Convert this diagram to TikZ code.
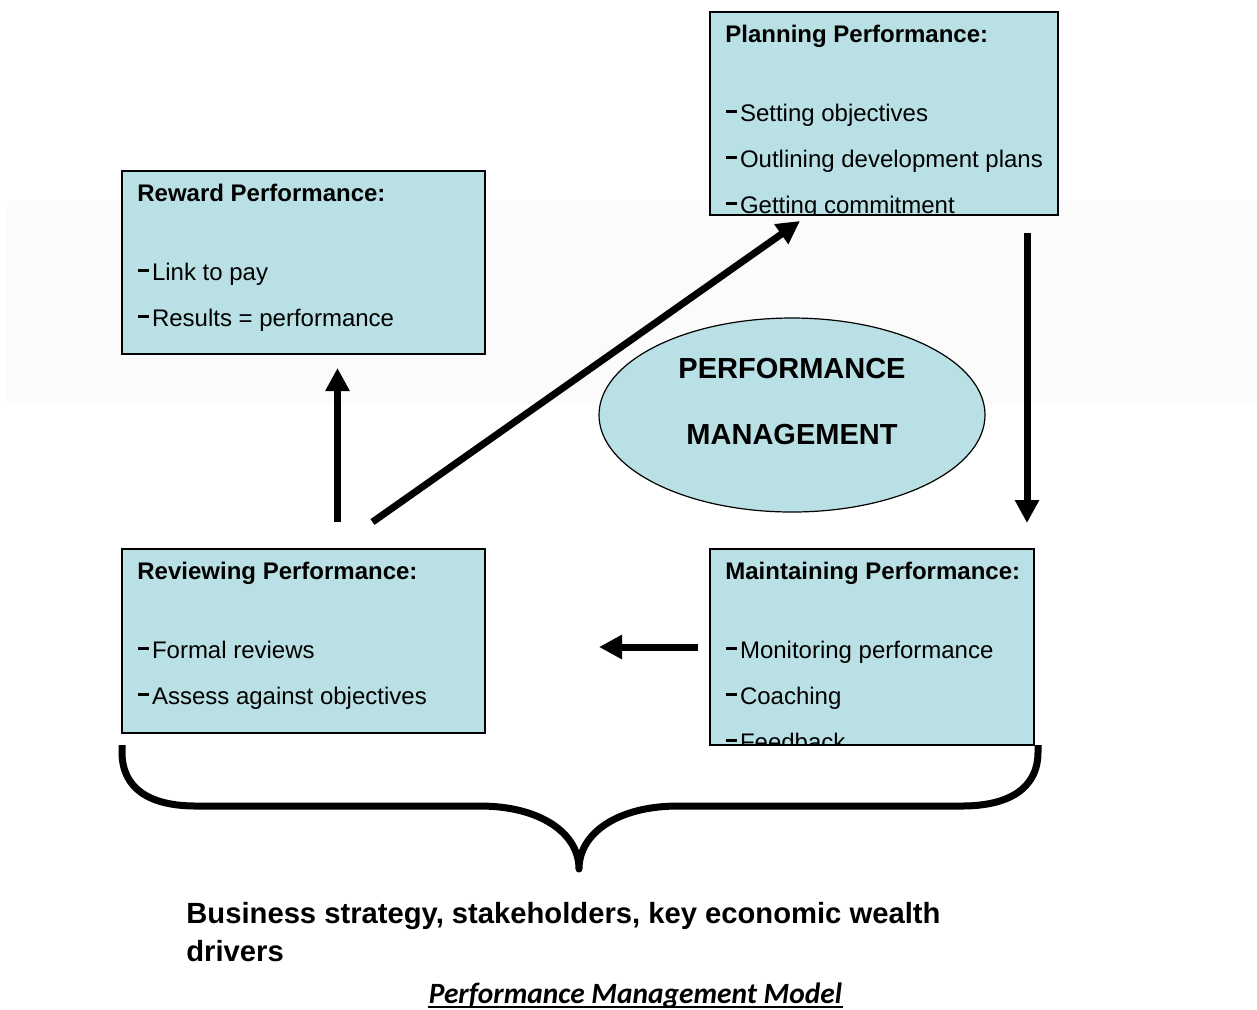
\documentclass[tikz,border=0pt]{standalone}
\usepackage{fontspec}
\setmainfont{Liberation Sans}
\newfontfamily\capfont{Carlito}
\usetikzlibrary{arrows.meta,calc,shapes.geometric}

\definecolor{cardfill}{RGB}{185,224,228}
\definecolor{bandgray}{RGB}{251,251,251}

% short bold dash in front of each item
\newcommand{\itemdash}{\rule[3.8pt]{5.2pt}{1.7pt}\kern1.6pt}
% heading plus item lines of one card, placed from its top left corner
\newcommand{\cardtext}[3]{%
  \node[cardhead] (#1-head) at ($(#1.north west)+(16,31.5)$) {#2};
  \foreach \txt [count=\i] in {#3}
    \node[cardline] (#1-\i) at ($(#1.north west)+(17,64+46*\i)$) {\itemdash\txt};
}

\begin{document}
\begin{tikzpicture}[x=0.5pt, y=-0.5pt,
    card/.style={draw, line width=1pt, fill=cardfill, inner sep=0pt},
    cardhead/.style={anchor=base west, inner sep=0pt, font=\fontsize{12}{14}\bfseries},
    cardline/.style={anchor=base west, inner sep=0pt, font=\fontsize{12}{14}\selectfont},
    hub/.style={ellipse, draw, line width=0.6pt, fill=cardfill, inner sep=0pt,
        minimum width=193pt, minimum height=97pt},
    hubtext/.style={inner sep=0pt, font=\fontsize{14.5}{17}\bfseries},
    flow/.style={line width=3.5pt, -{Triangle[length=11.5pt,width=11.5pt]}}]
    \useasboundingbox (0,0) rectangle (1257,1009);
    % pale band behind the upper half
    \fill[bandgray] (7,201) rectangle (1257,404);

    % Planning
    \node[card, minimum width=174pt, minimum height=101.5pt] (plan) at (884,113.5) {};
    \begin{scope}
        \clip ($(plan.south west)+(1,-1)$) rectangle ($(plan.north east)+(-1,1)$);
        \cardtext{plan}{Planning Performance:}{Setting objectives, Outlining development plans, Getting commitment}
    \end{scope}

    % Reward
    \node[card, minimum width=181.5pt, minimum height=91.5pt] (reward) at (303.5,262.5) {};
    \cardtext{reward}{Reward Performance:}{Link to pay, Results = performance}

    % Reviewing
    \node[card, minimum width=181.5pt, minimum height=92pt] (review) at (303.5,641) {};
    \cardtext{review}{Reviewing Performance:}{Formal reviews, Assess against objectives}

    % Maintaining
    \node[card, minimum width=162pt, minimum height=98pt] (maint) at (872,647) {};
    \begin{scope}
        \clip ($(maint.south west)+(1,-1)$) rectangle ($(maint.north east)+(-1,1)$);
        \cardtext{maint}{Maintaining Performance:}{Monitoring performance, Coaching, Feedback}
    \end{scope}

    % centre ellipse
    \node[hub] (core) at (792,415) {};
    \node[hubtext] (core-top) at ($(core)+(0,-46)$) {PERFORMANCE};
    \node[hubtext] (core-bot) at ($(core)+(0,19)$) {MANAGEMENT};

    % cycle arrows
    \draw[flow] ($(review.north)+(34,-26)$) -- ($(reward.south)+(34,13)$);
    \draw[flow] ($(review.north)+(69,-26)$) -- ($(plan.south)+(-84,5)$);
    \draw[flow] ($(plan.south east)+(-32,17)$) -- ($(maint.north east)+(-8,-25)$);
    \draw[flow] ($(maint.west)+(-11,0)$) -- ($(review.east |- maint.west)+(113,0)$);

    % brace under the lower cards
    \draw[line width=3.5pt, line join=round]
        (122,745) -- (122,752) .. controls (122,789) and (150,806) .. (196,806)
        -- (480,806) .. controls (540,806) and (579,833) .. (579,869)
        .. controls (579,833) and (618,806) .. (678,806)
        -- (962,806) .. controls (1008,806) and (1038,789) .. (1038,752) -- (1038,745);

    \node[anchor=north west, align=left, inner sep=0pt, font=\fontsize{14.6}{19}\bfseries]
        (drivers) at (186,902) {Business strategy, stakeholders, key economic wealth\\drivers};
    \node[anchor=base, inner sep=0pt, font=\capfont\fontsize{14.7}{17}\bfseries\itshape]
        (caption) at (635.5,1003) {Performance Management Model};
    \draw[line width=1pt] ($(caption.base west)+(0,4)$) -- ($(caption.base east)+(0,4)$);
\end{tikzpicture}
\end{document}
